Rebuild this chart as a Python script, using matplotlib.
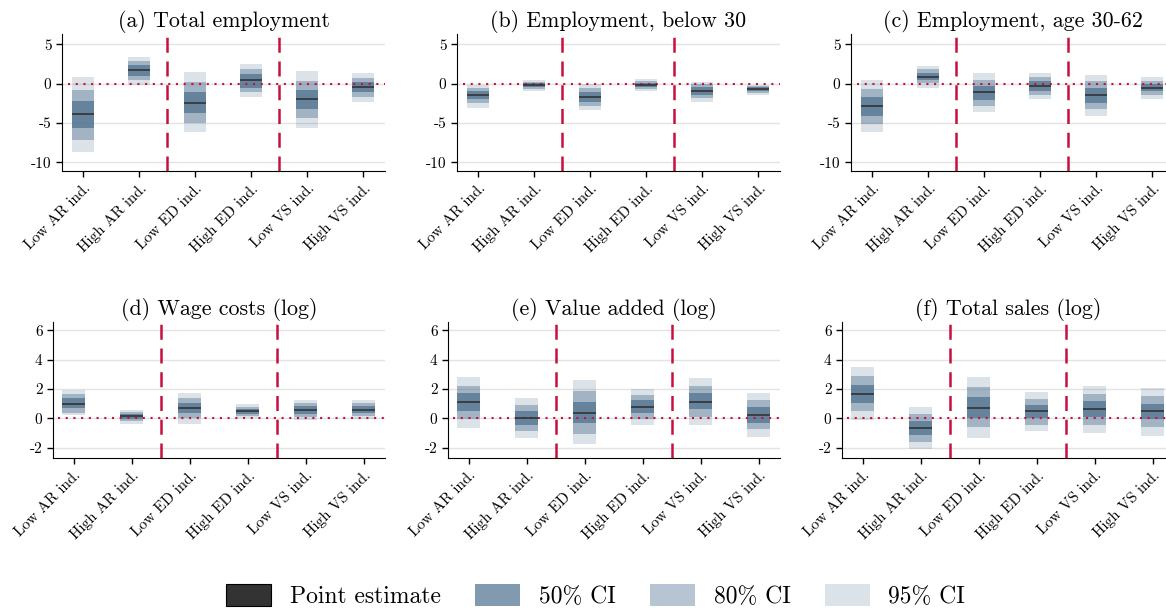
import numpy as np
import matplotlib
matplotlib.use("Agg")
import matplotlib.pyplot as plt
from matplotlib.patches import Patch

plt.rcParams['font.family'] = 'cmr10'
plt.rcParams['mathtext.fontset'] = 'cm'
plt.rcParams['axes.unicode_minus'] = False
plt.rcParams['axes.formatter.use_mathtext'] = False

categories = ['Low AR ind.', 'High AR ind.', 'Low ED ind.', 'High ED ind.', 'Low VS ind.', 'High VS ind.']
titles = ['(a) Total employment', '(b) Employment, below 30', '(c) Employment, age 30-62',
          '(d) Wage costs (log)', '(e) Value added (log)', '(f) Total sales (log)']

# point estimates per panel
est = [
    [-3.9, 1.7, -2.4, 0.42, -2.0, -0.47],
    [-1.5, -0.2, -1.65, -0.2, -0.95, -0.7],
    [-2.9, 0.9, -1.1, -0.25, -1.5, -0.5],
    [1.0, 0.14, 0.68, 0.48, 0.6, 0.6],
    [1.14, 0.05, 0.39, 0.8, 1.14, 0.25],
    [1.69, -0.65, 0.74, 0.48, 0.62, 0.48],
]
# confidence bands (lo, hi)
ci50 = [
    [(-5.6, -2.2), (1.0, 2.3), (-3.7, -1.1), (-0.5, 1.2), (-3.2, -0.8), (-1.1, 0.2)],
    [(-2.0, -0.93), (-0.47, 0.04), (-2.3, -1.1), (-0.47, 0.13), (-1.44, -0.38), (-1.0, -0.47)],
    [(-4.1, -1.74), (0.42, 1.4), (-2.1, -0.34), (-0.9, 0.34), (-2.4, -0.55), (-1.0, -0.04)],
    [(0.68, 1.36), (-0.07, 0.27), (0.34, 1.05), (0.32, 0.66), (0.32, 0.84), (0.34, 0.82)],
    [(0.5, 1.7), (-0.43, 0.48), (-0.34, 1.11), (0.34, 1.23), (0.61, 1.7), (-0.3, 0.8)],
    [(1.04, 2.29), (-1.15, -0.18), (0.05, 1.48), (0.0, 0.9), (0.07, 1.18), (-0.02, 0.99)],
]
ci80 = [
    [(-7.2, -0.8), (0.42, 2.9), (-5.0, 0.25), (-1.1, 1.9), (-4.4, 0.34), (-1.65, 0.7)],
    [(-2.5, -0.5), (-0.64, 0.2), (-2.8, -0.5), (-0.64, 0.3), (-1.86, -0.04), (-1.2, -0.34)],
    [(-5.1, -0.68), (0.04, 1.8), (-2.8, 0.47), (-1.44, 0.8), (-3.2, 0.3), (-1.44, 0.34)],
    [(0.39, 1.64), (-0.2, 0.41), (0.0, 1.36), (0.18, 0.8), (0.11, 1.05), (0.14, 1.02)],
    [(-0.02, 2.2), (-0.89, 0.89), (-1.05, 1.84), (-0.07, 1.57), (0.11, 2.18), (-0.75, 1.23)],
    [(0.51, 2.86), (-1.64, 0.28), (-0.6, 2.12), (-0.42, 1.32), (-0.46, 1.64), (-0.6, 1.52)],
]
ci95 = [
    [(-8.7, 0.8), (-0.13, 3.43), (-6.2, 1.5), (-1.7, 2.5), (-5.6, 1.6), (-2.3, 1.35)],
    [(-3.05, -0.17), (-0.93, 0.42), (-3.35, -0.08), (-0.9, 0.55), (-2.3, 0.25), (-1.4, -0.17)],
    [(-6.2, 0.47), (-0.5, 2.2), (-3.56, 1.3), (-1.95, 1.4), (-4.07, 1.1), (-1.95, 0.8)],
    [(0.2, 1.93), (-0.39, 0.57), (-0.39, 1.7), (0.05, 0.95), (-0.11, 1.27), (-0.05, 1.23)],
    [(-0.64, 2.84), (-1.34, 1.36), (-1.77, 2.6), (-0.45, 2.02), (-0.45, 2.73), (-1.27, 1.75)],
    [(-0.09, 3.49), (-2.12, 0.81), (-1.32, 2.82), (-0.85, 1.78), (-0.99, 2.19), (-1.18, 2.08)],
]

base = '#4d6f8f'
red = '#c8103e'
W, H = 1166, 609
fig = plt.figure(figsize=(W / 100, H / 100), dpi=100)

# axes boxes in pixels: left, top, width, height
boxes = [(62, 34, 323, 137), (457, 34, 323, 137), (851, 34, 323, 137),
         (53, 322, 332, 136), (448, 322, 332, 136), (842, 322, 332, 136)]

x = np.arange(len(categories))
bw = 0.4
for k in range(6):
    l, t, w, h = boxes[k]
    ax = fig.add_axes([l / W, 1 - (t + h) / H, w / W, h / H])
    top_row = k < 3
    for i in x:
        for band, a in [(ci95[k], 0.2), (ci80[k], 0.4), (ci50[k], 0.7)]:
            lo, hi = band[i]
            ax.bar(i, hi - lo, bottom=lo, width=bw, color=base, alpha=a, linewidth=0, zorder=2)
        ax.hlines(est[k][i], i - bw / 2, i + bw / 2, color='#333333', lw=1.2, zorder=4)
    if top_row:
        ax.set_ylim(-11.1, 6.3)
        ax.set_yticks([5, 0, -5, -10])
        ax.set_xlim(-0.38, 5.39)
    else:
        ax.set_ylim(-2.7, 6.57)
        ax.set_yticks([6, 4, 2, 0, -2])
        ax.set_xlim(-0.36, 5.37)
    ax.hlines(0, -0.27, 6, color=red, lw=1.5, linestyles=(0, (1, 2.7)), zorder=3)
    for xv in [1.5, 3.5]:
        ax.axvline(xv, color=red, lw=1.8, dashes=(6, 3.5), zorder=3)
    ax.grid(axis='y', color='#e3e3e3', lw=1, zorder=0)
    ax.set_axisbelow(True)
    ax.spines['top'].set_visible(False)
    ax.spines['right'].set_visible(False)
    ax.set_xticks(x)
    ax.set_xticklabels(categories, rotation=45, ha='right', rotation_mode='anchor', fontsize=11)
    ax.tick_params(axis='both', labelsize=11, length=4, width=1, color='black')
    ax.set_title(titles[k], fontsize=15.8, pad=5)

handles = [Patch(facecolor='#333333', edgecolor='black', lw=0.8),
           Patch(facecolor=base, alpha=0.7, lw=0),
           Patch(facecolor=base, alpha=0.4, lw=0),
           Patch(facecolor=base, alpha=0.2, lw=0)]
fig.legend(handles, ['Point estimate', '50% CI', '80% CI', '95% CI'], loc='center',
           bbox_to_anchor=(0.511, 1 - 596 / H), ncol=4, frameon=False, fontsize=17,
           handlelength=1.9, handleheight=1.1, columnspacing=1.45, handletextpad=0.8)

fig.savefig('out.png', dpi=100)
